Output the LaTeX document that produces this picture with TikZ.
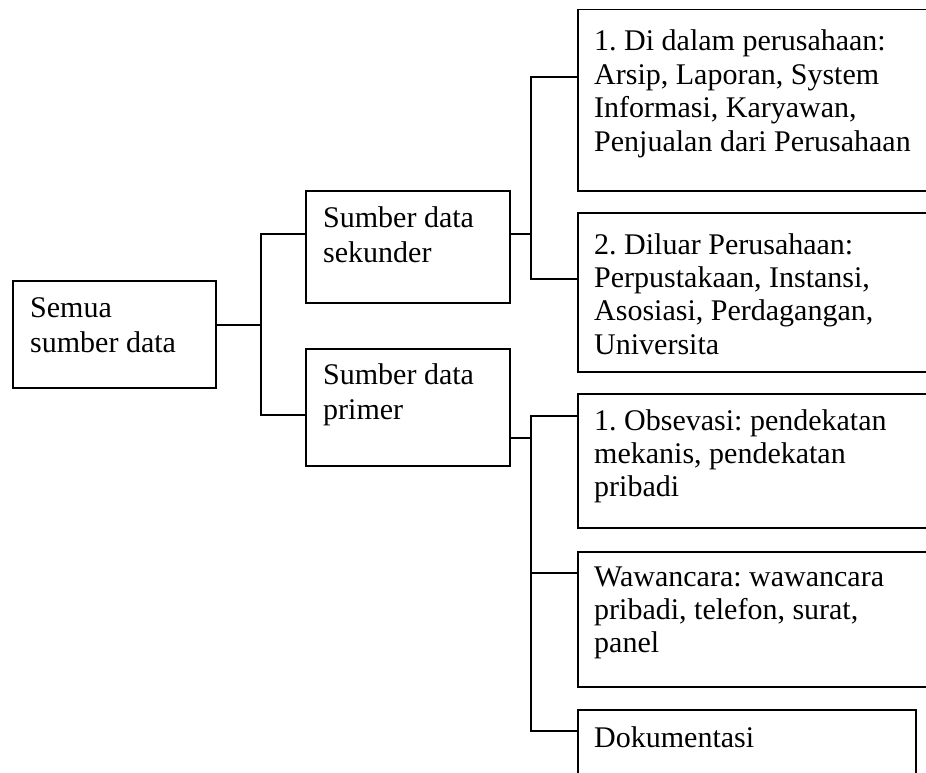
\documentclass[tikz,border=0pt]{standalone}
\usepackage{fontspec}
\setmainfont{Liberation Serif}
\frenchspacing
\newcommand\boxtextL[1]{\parbox[t]{420pt}{\frenchspacing\fontsize{30}{35}\selectfont #1}}
\newcommand\boxtextR[1]{\parbox[t]{420pt}{\frenchspacing\fontsize{30}{33.4}\selectfont #1}}
\begin{document}
\begin{tikzpicture}[x=1pt,y=-1pt,
  box/.style={draw, line width=1.5pt, rectangle, inner sep=0pt, anchor=north west},
  txt/.style={inner sep=0pt, anchor=base west},
  conn/.style={line width=1.5pt}]
\useasboundingbox (0,0) rectangle (926,773);
\clip (0,0) rectangle (926,773);

% boxes
\node[box, minimum width=203pt, minimum height=107pt] (A) at (12,280) {};
\node[box, minimum width=204pt, minimum height=112pt] (sek) at (305,190) {};
\node[box, minimum width=204pt, minimum height=117pt] (pri) at (305,348) {};
\node[box, minimum width=380pt, minimum height=181pt] (r1) at (577,9) {};
\node[box, minimum width=380pt, minimum height=159pt] (r2) at (577,212) {};
\node[box, minimum width=380pt, minimum height=134pt] (r3) at (577,393) {};
\node[box, minimum width=380pt, minimum height=135pt] (r4) at (577,551) {};
\node[box, minimum width=338pt, minimum height=100pt] (r5) at (577,709) {};

% texts
\node[txt] (At) at (30,317) {\boxtextL{Semua\\sumber data}};
\node[txt] (sekt) at (323,227) {\boxtextL{Sumber data\\sekunder}};
\node[txt] (prit) at (323,384) {\boxtextL{Sumber data\\primer}};
\node[txt] (r1t) at (594,51) {\boxtextR{1. Di dalam perusahaan:\\Arsip, Laporan, System\\Informasi, Karyawan,\\Penjualan dari Perusahaan}};
\node[txt] (r2t) at (594,254) {\boxtextR{2. Diluar Perusahaan:\\Perpustakaan, Instansi,\\Asosiasi, Perdagangan,\\Universita}};
\node[txt] (r3t) at (594,430) {\boxtextR{1. Obsevasi: pendekatan\\mekanis, pendekatan\\pribadi}};
\node[txt] (r4t) at (594,586) {\boxtextR{Wawancara: wawancara\\pribadi, telefon, surat,\\panel}};
\node[txt] (r5t) at (594,747) {\boxtextR{Dokumentasi}};

% connectors
\coordinate (jA) at (261,325);
\coordinate (jAt) at (261,234);
\coordinate (jAb) at (261,415);
\draw[conn] (A.east |- jA) -- (jA);
\draw[conn] (sek.west |- jAt) -- (jAt) -- (jAb) -- (pri.west |- jAb);

\coordinate (jS) at (531,234);
\coordinate (jSt) at (531,77);
\coordinate (jSb) at (531,279);
\draw[conn] (sek.east |- jS) -- (jS);
\draw[conn] (r1.west |- jSt) -- (jSt) -- (jSb) -- (r2.west |- jSb);

\coordinate (jP) at (531,438);
\coordinate (jP1) at (531,416);
\coordinate (jP2) at (531,573);
\coordinate (jP3) at (531,731);
\draw[conn] (pri.east |- jP) -- (jP);
\draw[conn] (r3.west |- jP1) -- (jP1) -- (jP3) -- (r5.west |- jP3);
\draw[conn] (jP2) -- (r4.west |- jP2);
\end{tikzpicture}
\end{document}
